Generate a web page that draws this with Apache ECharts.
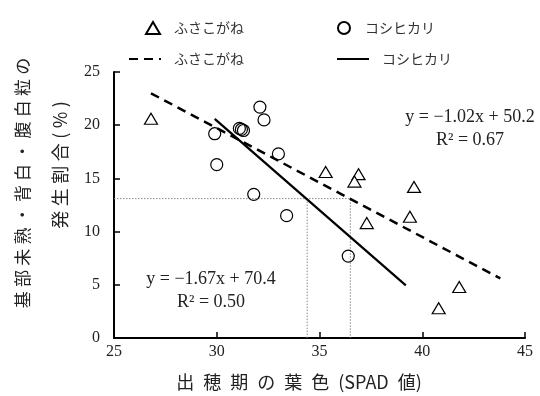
<!DOCTYPE html>
<html><head><meta charset="utf-8">
<script src="https://cdn.jsdelivr.net/npm/echarts@6/dist/echarts.min.js"></script>
<style>html,body{margin:0;padding:0;background:#fff}#c{width:540px;height:396px}</style>
</head><body><div id="c"></div>
<script>
// ---- data ----
const fusaName = 'ふさこがね';
const koshiName = 'コシヒカリ';
const fusaX = [26.8, 35.3, 36.9, 36.7, 39.6, 37.3, 39.4, 41.8, 40.8];
const fusaY = [20.6, 15.6, 15.4, 14.7, 14.2, 10.8, 11.4, 4.8, 2.8];
const koshiX = [29.9, 30.0, 31.1, 31.2, 31.3, 32.1, 32.3, 33.0, 31.8, 33.4, 36.4];
const koshiY = [19.2, 16.3, 19.7, 19.6, 19.5, 21.7, 20.5, 17.3, 13.5, 11.5, 7.7];
const fusaLineX = [26.8, 43.8];
const fusaLineY = [23.0, 5.6];
const koshiLineX = [29.9, 39.2];
const koshiLineY = [20.6, 4.95];
const refY = 13.1;
const refX = [34.4, 36.5];
const xTicks = [25, 30, 35, 40, 45];
const yTicks = [0, 5, 10, 15, 20, 25];
const fusaEq = ['y = −1.02x + 50.2', 'R² = 0.67'];
const koshiEq = ['y = −1.67x + 70.4', 'R² = 0.50'];
const xTitle = '出\u2002穂\u2002期\u2002の\u2002葉\u2002色\u2002(SPAD\u2002値)';
const yTitle1 = '基部未熟・背白・腹白粒の';
const yTitle2 = '発生割合(%)';

const zip = (a, b) => a.map((v, i) => [v, b[i]]);
const spaced = s => s.split('').join('\u2005');
const serif = '"Liberation Serif", "DejaVu Serif", serif';
const cjk = '"Noto Sans CJK JP", "Noto Sans", sans-serif';

const chart = echarts.init(document.getElementById('c'), null, {renderer: 'canvas'});
const lineFusa = fusaName + ' ';
const lineKoshi = koshiName + ' ';
chart.setOption({
  animation: false,
  backgroundColor: '#fff',
  grid: {left: 114, right: 15, top: 72, bottom: 58},
  legend: [
    {left: 140, top: 16, itemWidth: 14, itemHeight: 12, itemGap: 93,
     data: [fusaName, koshiName],
     textStyle: {fontFamily: cjk, fontSize: 14, color: '#333', padding: [0, 0, 0, 9]}},
    {left: 123, top: 47, itemWidth: 32, itemHeight: 12, itemGap: 92,
     data: [lineFusa, lineKoshi],
     itemStyle: {opacity: 0},
     formatter: n => n.trim(),
     textStyle: {fontFamily: cjk, fontSize: 14, color: '#333', padding: [0, 0, 0, 8]}}
  ],
  xAxis: {
    type: 'value', min: 25, max: 45, interval: 5,
    axisLine: {lineStyle: {color: '#000', width: 2}},
    axisTick: {inside: true, length: 6, lineStyle: {color: '#000', width: 1.5}},
    axisLabel: {fontFamily: serif, fontSize: 16, color: '#222', margin: 6,
      formatter: v => xTicks.includes(v) ? String(v) : ''},
    splitLine: {show: false}
  },
  yAxis: {
    type: 'value', min: 0, max: 25, interval: 5,
    axisLine: {show: true, lineStyle: {color: '#000', width: 2}},
    axisTick: {show: true, inside: true, length: 6, lineStyle: {color: '#000', width: 1.5}},
    axisLabel: {fontFamily: serif, fontSize: 16, color: '#222', margin: 14,
      formatter: v => yTicks.includes(v) ? String(v) : ''},
    splitLine: {show: false}
  },
  series: [
    {name: 'ref1', type: 'line', symbol: 'none', silent: true, z: 1,
     data: [[25, refY], [refX[1], refY], [refX[1], 0]],
     lineStyle: {color: '#888', width: 1, type: [1.5, 1.5]}},
    {name: 'ref2', type: 'line', symbol: 'none', silent: true, z: 1,
     data: [[refX[0], refY], [refX[0], 0]],
     lineStyle: {color: '#888', width: 1, type: [1.5, 1.5]}},
    {name: lineFusa, type: 'line', symbol: 'none', z: 2,
     data: zip(fusaLineX, fusaLineY),
     lineStyle: {color: '#000', width: 2.5, type: [9, 6]},
     itemStyle: {color: '#000'}},
    {name: lineKoshi, type: 'line', symbol: 'none', z: 2,
     data: zip(koshiLineX, koshiLineY),
     lineStyle: {color: '#000', width: 2.2, type: 'solid'},
     itemStyle: {color: '#000'}},
    {name: fusaName, type: 'scatter', symbol: 'triangle', symbolSize: [13, 11], z: 3,
     data: zip(fusaX, fusaY),
     itemStyle: {color: '#fff', borderColor: '#000', borderWidth: 1.2, opacity: 1}},
    {name: koshiName, type: 'scatter', symbol: 'circle', symbolSize: 12, z: 3,
     data: zip(koshiX, koshiY),
     itemStyle: {color: 'rgba(255,255,255,0)', borderColor: '#000', borderWidth: 1.2, opacity: 1}}
  ],
  graphic: [
    {type: 'text', x: 470, y: 117, style: {text: fusaEq[0], font: '18px ' + serif, fill: '#222', align: 'center', verticalAlign: 'middle'}},
    {type: 'text', x: 470, y: 140, style: {text: fusaEq[1], font: '18px ' + serif, fill: '#222', align: 'center', verticalAlign: 'middle'}},
    {type: 'text', x: 211, y: 279, style: {text: koshiEq[0], font: '18px ' + serif, fill: '#222', align: 'center', verticalAlign: 'middle'}},
    {type: 'text', x: 211, y: 302, style: {text: koshiEq[1], font: '18px ' + serif, fill: '#222', align: 'center', verticalAlign: 'middle'}},
    {type: 'text', x: 299, y: 382, style: {text: xTitle, font: '18px ' + cjk, fill: '#222', align: 'center', verticalAlign: 'middle'}},
    {type: 'text', x: 23, y: 183, rotation: Math.PI / 2, style: {text: spaced(yTitle1), font: '17px ' + cjk, fill: '#222', align: 'center', verticalAlign: 'middle'}},
    {type: 'text', x: 60, y: 165, rotation: Math.PI / 2, style: {text: spaced(yTitle2), font: '18px ' + cjk, fill: '#222', align: 'center', verticalAlign: 'middle'}}
  ]
});
</script></body></html>
